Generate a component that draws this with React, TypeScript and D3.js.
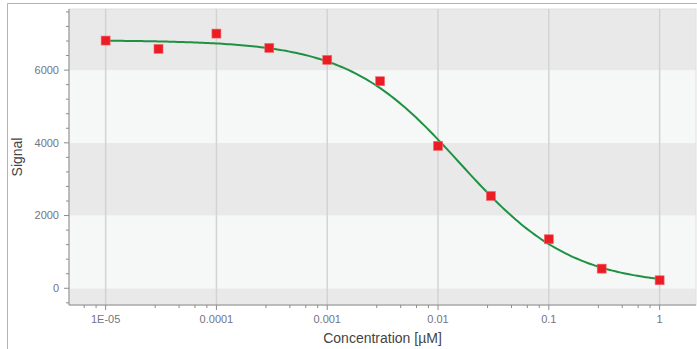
import React from "react";
import * as d3 from "d3";

// Data
const concentrations = [1e-5, 3e-5, 1e-4, 3e-4, 1e-3, 3e-3, 1e-2, 3e-2, 0.1, 0.3, 1];
const signals = [6812, 6583, 7004, 6610, 6281, 5694, 3915, 2539, 1348, 540, 220];
// Fitted 4-parameter logistic curve (estimated from the drawn green line)
const fitTop = 6820;
const fitBottom = 68;
const fitEC50 = 0.01571;
const fitHill = 0.857;
const xTickValues = [1e-5, 1e-4, 1e-3, 1e-2, 1e-1, 1];
const xTickLabels = ["1E-05", "0.0001", "0.001", "0.01", "0.1", "1"];
const yTickValues = [0, 2000, 4000, 6000];
const xDomain = [4.67e-6, 2.13];
const yDomain = [-460, 7680];

const W = 697;
const H = 349;
const M = { left: 69, right: 696, top: 9, bottom: 305 };

export default function App() {
  const x = d3.scaleLog().domain(xDomain).range([M.left, M.right]);
  const y = d3.scaleLinear().domain(yDomain).range([M.bottom, M.top]);

  // bands every 2000
  const bandEdges = [yDomain[0], 0, 2000, 4000, 6000, yDomain[1]];
  const bands = bandEdges.slice(0, -1).map((lo, i) => ({
    lo,
    hi: bandEdges[i + 1],
    dark: i % 2 === 0,
  }));

  // minor x ticks: each decade split linearly into 5 parts
  const xMinor: number[] = [];
  for (let e = -6; e <= 0; e++) {
    for (let k = 1; k < 5; k++) {
      const v = Math.pow(10, e) * (1 + 1.8 * k);
      if (v > xDomain[0] && v < xDomain[1]) xMinor.push(v);
    }
  }
  const yMinor = d3.range(-400, 7680, 400).filter((v) => v % 2000 !== 0);

  const fourPL = (c: number) =>
    fitBottom + (fitTop - fitBottom) / (1 + Math.pow(c / fitEC50, fitHill));
  const lo = Math.log10(concentrations[0]);
  const hi = Math.log10(concentrations[concentrations.length - 1]);
  const curveX = d3.range(0, 201).map((i) => Math.pow(10, lo + (i / 200) * (hi - lo)));
  const line = d3
    .line<number>()
    .x((c) => x(c))
    .y((c) => y(fourPL(c)))
    .curve(d3.curveLinear);

  const tickColor = "#74747f";
  const axisColor = "#8c8c8c";
  const font = "'Liberation Sans', Arial, sans-serif";

  return (
    <svg
      width={W}
      height={H}
      style={{ position: "absolute", left: 0, top: 0, background: "#fff" }}
    >
      {/* outer border */}
      <line x1={7.5} x2={W} y1={3.5} y2={3.5} stroke="#b4b4b4" strokeWidth={1} />
      <line x1={7.5} x2={7.5} y1={3.5} y2={H} stroke="#b4b4b4" strokeWidth={1} />

      {/* bands */}
      {bands.map((b, i) => (
        <rect
          key={i}
          x={M.left}
          width={M.right - M.left}
          y={y(b.hi)}
          height={y(b.lo) - y(b.hi)}
          fill={b.dark ? "#e9e9e9" : "#f6f8f8"}
        />
      ))}
      <rect
        x={M.left}
        y={M.top}
        width={M.right - M.left}
        height={M.bottom - M.top}
        fill="none"
        stroke="#e0e0e0"
        strokeWidth={1}
      />

      {/* vertical grid */}
      {xTickValues.map((v, i) => (
        <line
          key={i}
          x1={x(v)}
          x2={x(v)}
          y1={M.top}
          y2={M.bottom}
          stroke="#d3d3d3"
          strokeWidth={1.5}
        />
      ))}

      {/* axes */}
      <line x1={M.left} x2={M.left} y1={M.top} y2={M.bottom} stroke={axisColor} strokeWidth={1} />
      <line x1={M.left} x2={M.right} y1={M.bottom} y2={M.bottom} stroke={axisColor} strokeWidth={1} />

      {yMinor.map((v) => (
        <line key={"ym" + v} x1={M.left - 3} x2={M.left} y1={y(v)} y2={y(v)} stroke={axisColor} />
      ))}
      {yTickValues.map((v) => (
        <g key={"y" + v}>
          <line x1={M.left - 5} x2={M.left} y1={y(v)} y2={y(v)} stroke={axisColor} />
          <text
            x={M.left - 10}
            y={y(v)}
            dy="0.35em"
            textAnchor="end"
            fontFamily={font}
            fontSize={11}
            fill={tickColor}
          >
            {v}
          </text>
        </g>
      ))}

      {xMinor.map((v, i) => (
        <line key={"xm" + i} x1={x(v)} x2={x(v)} y1={M.bottom} y2={M.bottom + 3} stroke={axisColor} />
      ))}
      {xTickValues.map((v, i) => (
        <g key={"x" + i}>
          <line x1={x(v)} x2={x(v)} y1={M.bottom} y2={M.bottom + 5} stroke={axisColor} />
          <text
            x={x(v)}
            y={M.bottom + 18}
            textAnchor="middle"
            fontFamily={font}
            fontSize={11}
            fill={tickColor}
          >
            {xTickLabels[i]}
          </text>
        </g>
      ))}

      {/* axis titles */}
      <text
        x={(M.left + M.right) / 2}
        y={343}
        textAnchor="middle"
        fontFamily={font}
        fontSize={14}
        fill="#444"
      >
        Concentration [µM]
      </text>
      <text
        transform={`translate(22,157) rotate(-90)`}
        textAnchor="middle"
        fontFamily={font}
        fontSize={14}
        fill="#444"
      >
        Signal
      </text>

      {/* fitted curve */}
      <path d={line(curveX) || ""} fill="none" stroke="#1f9142" strokeWidth={2} />

      {/* points */}
      {concentrations.map((c, i) => (
        <rect
          key={"p" + i}
          x={x(c) - 4.5}
          y={y(signals[i]) - 4.5}
          width={9}
          height={9}
          fill="#ec1c24"
          stroke="#f26b70"
          strokeWidth={0.6}
        />
      ))}
    </svg>
  );
}
